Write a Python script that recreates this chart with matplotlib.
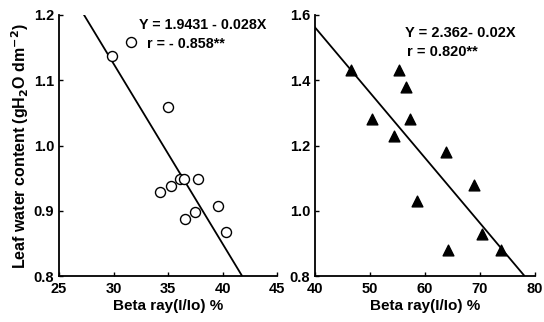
import matplotlib
matplotlib.use("Agg")
import matplotlib.pyplot as plt

plt.rcParams['font.family'] = ['Liberation Sans', 'DejaVu Sans']
plt.rcParams['font.weight'] = 'bold'
plt.rcParams['mathtext.default'] = 'bf'

# Left panel data (open circles)
left_x = [29.9, 31.6, 35.0, 34.3, 35.3, 36.1, 36.5, 37.75, 36.6, 37.5, 39.6, 40.3]
left_y = [1.137, 1.158, 1.059, 0.928, 0.938, 0.948, 0.948, 0.948, 0.888, 0.898, 0.907, 0.868]
left_line_x = [27.3, 41.8]
left_line_y = [1.2, 0.8]
left_xticks = [25, 30, 35, 40, 45]
left_yticks = [0.8, 0.9, 1.0, 1.1, 1.2]

# Right panel data (filled triangles)
right_x = [46.5, 50.4, 55.2, 56.6, 57.2, 54.4, 63.8, 58.5, 68.9, 64.1, 70.4, 73.8]
right_y = [1.43, 1.28, 1.43, 1.38, 1.28, 1.23, 1.18, 1.03, 1.08, 0.88, 0.93, 0.88]
right_line_x = [40.0, 78.0]
right_intercept = 2.362
right_slope = -0.02
right_xticks = [40, 50, 60, 70, 80]
right_yticks = [0.8, 1.0, 1.2, 1.4, 1.6]

fig = plt.figure(figsize=(5.44, 3.22), dpi=100)
ax1 = fig.add_axes([59/544, 1-276/322, (277-59)/544, (276-15)/322])
ax2 = fig.add_axes([315/544, 1-276/322, (535-315)/544, (276-15)/322])

TICK_FS = 10.5
for ax in (ax1, ax2):
    ax.spines['top'].set_visible(False)
    ax.spines['right'].set_visible(False)
    for s in ('left', 'bottom'):
        ax.spines[s].set_linewidth(1.3)
    ax.tick_params(direction='in', length=3, width=1.0, labelsize=TICK_FS)
    ax.tick_params(axis='x', pad=4.5)
    ax.tick_params(axis='y', pad=3.5)

ax1.plot(left_line_x, left_line_y, color='black', lw=1.3)
ax1.scatter(left_x, left_y, s=52, facecolors='white', edgecolors='black', linewidths=1.0, zorder=3)
ax1.set_xlim(25, 45)
ax1.set_ylim(0.8, 1.2)
ax1.set_xticks(left_xticks)
ax1.set_yticks(left_yticks)
ax1.set_xticklabels([str(v) for v in left_xticks], fontweight='bold')
ax1.set_yticklabels([f"{v:.1f}" for v in left_yticks], fontweight='bold')
ax1.set_xlabel("Beta ray(I/Io) %", fontsize=11, fontweight='bold', labelpad=2)
ax1.set_ylabel(r"Leaf water content (gH$_2$O dm$^{-2}$)", fontsize=11.5, fontweight='bold', labelpad=2)
ax1.text(0.365, 0.96, "Y = 1.9431 - 0.028X", transform=ax1.transAxes, fontsize=10.3, fontweight='bold', va='center')
ax1.text(0.405, 0.89, "r = - 0.858**", transform=ax1.transAxes, fontsize=10.3, fontweight='bold', va='center')

rly = [right_intercept + right_slope * x for x in right_line_x]
ax2.plot(right_line_x, rly, color='black', lw=1.3)
ax2.scatter(right_x, right_y, s=60, marker='^', color='black', zorder=3)
ax2.set_xlim(40, 80)
ax2.set_ylim(0.8, 1.6)
ax2.set_xticks(right_xticks)
ax2.set_yticks(right_yticks)
ax2.set_xticklabels([str(v) for v in right_xticks], fontweight='bold')
ax2.set_yticklabels([f"{v:.1f}" for v in right_yticks], fontweight='bold')
ax2.set_xlabel("Beta ray(I/Io) %", fontsize=11, fontweight='bold', labelpad=2)
ax2.text(0.41, 0.93, "Y = 2.362- 0.02X", transform=ax2.transAxes, fontsize=10.5, fontweight='bold', va='center')
ax2.text(0.42, 0.86, "r = 0.820**", transform=ax2.transAxes, fontsize=10.5, fontweight='bold', va='center')

fig.savefig("out.png", dpi=100)
